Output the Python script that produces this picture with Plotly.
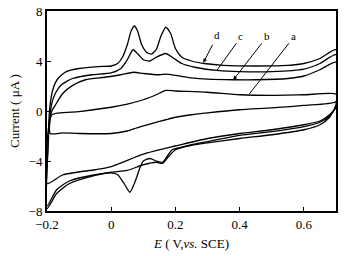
import plotly.graph_objects as go

# Curve a
a_E = [-0.19, -0.185, -0.1, 0.0, 0.05, 0.1, 0.14, 0.17, 0.2, 0.3, 0.4, 0.5, 0.6, 0.7,
       0.7, 0.6, 0.5, 0.4, 0.3, 0.25, 0.2, 0.17, 0.12, 0.08, 0.05, 0.0, -0.1, -0.15, -0.19]
a_I = [-1.8, -0.3, -0.05, 0.3, 0.55, 0.9, 1.3, 1.65, 1.6, 1.5, 1.3, 1.25, 1.3, 1.35,
       0.75, 0.45, 0.25, 0.1, -0.15, -0.3, -0.5, -0.7, -1.05, -1.35, -1.6, -1.8, -1.8, -1.75, -1.8]

# Curve b
b_E = [-0.2, -0.196, -0.185, -0.171, -0.151, -0.12, -0.08, -0.02, 0.03, 0.07, 0.1, 0.15, 0.17, 0.2,
       0.25, 0.3, 0.38, 0.45, 0.55, 0.6, 0.65, 0.7,
       0.7, 0.68, 0.65, 0.6, 0.5, 0.4, 0.3, 0.2, 0.1, 0.0, -0.05, -0.15, -0.2]
b_I = [-5.8, -1.5, 0.0, 0.6, 1.4, 2.05, 2.5, 2.7, 2.9, 3.1, 3.0, 2.9, 2.95, 2.85,
       2.65, 2.55, 2.5, 2.5, 2.6, 2.8, 3.3, 3.9,
       0.3, -0.3, -0.8, -1.1, -1.5, -1.8, -2.2, -2.8, -3.45, -4.45, -4.7, -5.1, -5.8]

# Curve c
c_E = [-0.2, -0.195, -0.186, -0.176, -0.155, -0.12, -0.06, 0.0, 0.03, 0.05, 0.068, 0.085, 0.1, 0.12,
       0.14, 0.17, 0.19, 0.22, 0.26, 0.33, 0.4, 0.5, 0.6, 0.65, 0.7,
       0.7, 0.68, 0.65, 0.6, 0.5, 0.4, 0.3, 0.25, 0.2, 0.18, 0.16, 0.14, 0.1, 0.05, 0.0, -0.05,
       -0.13, -0.17, -0.2]
c_I = [-7.8, -2.0, 0.5, 1.3, 2.1, 2.6, 2.9, 3.05, 3.4, 4.1, 4.9, 4.5, 4.1, 4.0,
       4.3, 4.6, 4.3, 3.8, 3.5, 3.25, 3.15, 3.15, 3.35, 3.8, 4.5,
       0.4, -0.4, -0.9, -1.25, -1.65, -1.95, -2.45, -2.7, -3.1, -3.6, -4.2, -4.1, -4.3, -4.75, -4.9, -5.15,
       -5.8, -6.6, -7.8]

# Curve d
d_E = [-0.2, -0.197, -0.192, -0.182, -0.166, -0.14, -0.1, -0.04, 0.0, 0.02, 0.035, 0.05, 0.062, 0.072,
       0.082, 0.095, 0.11, 0.125, 0.14, 0.155, 0.17, 0.185, 0.2, 0.22, 0.25, 0.29, 0.35, 0.45, 0.55,
       0.6, 0.65, 0.7,
       0.7, 0.68, 0.65, 0.6, 0.5, 0.4, 0.3, 0.25, 0.19, 0.175, 0.16, 0.14, 0.12, 0.1, 0.09, 0.075,
       0.058, 0.04, 0.02, 0.0, -0.05, -0.13, -0.17, -0.2]
d_I = [-7.6, -3.0, 0.1, 1.7, 2.6, 3.15, 3.4, 3.55, 3.6, 3.8, 4.3, 5.3, 6.4, 6.8,
       6.4, 5.3, 4.7, 4.55, 4.9, 6.0, 6.7, 6.2, 5.0, 4.3, 4.0, 3.8, 3.65, 3.6, 3.65,
       3.8, 4.2, 4.9,
       0.5, -0.5, -1.1, -1.5, -1.9, -2.2, -2.55, -2.75, -3.1, -3.6, -4.1, -4.0, -3.8, -4.0, -4.5, -5.6,
       -6.5, -5.8, -5.1, -4.95, -5.1, -5.6, -6.3, -7.6]

x_ticks = [-0.2, 0, 0.2, 0.4, 0.6]
x_ticklabels = ["\u22120.2", "0", "0.2", "0.4", "0.6"]
y_ticks = [-8, -4, 0, 4, 8]
y_ticklabels = ["\u22128", "\u22124", "0", "4", "8"]

serif = "Liberation Serif, Times New Roman, serif"

fig = go.Figure()
for E, I in [(a_E, a_I), (b_E, b_I), (c_E, c_I), (d_E, d_I)]:
    fig.add_trace(go.Scatter(x=E, y=I, mode="lines",
                             line=dict(color="black", width=1.3, shape="spline", smoothing=0.6),
                             showlegend=False, hoverinfo="skip", cliponaxis=True))

# labels with arrows: (text, text x, text y, tail x, tail y, tip x, tip y, head)
labels = [("d", 0.329, 6.1, 0.318, 5.42, 0.287, 3.87, 2),
          ("c", 0.404, 6.0, 0.393, 5.54, 0.33, 3.28, 0),
          ("b", 0.485, 6.0, 0.4725, 5.54, 0.38, 2.48, 2),
          ("a", 0.568, 6.0, 0.557, 5.54, 0.43, 1.36, 0)]
for t, tx, ty, ax, ay, px, py, head in labels:
    fig.add_annotation(x=tx, y=ty, text=t, showarrow=False,
                       font=dict(family=serif, size=11, color="black"))
    fig.add_annotation(x=px, y=py, ax=ax, ay=ay, axref="x", ayref="y",
                       xref="x", yref="y", text="", showarrow=True,
                       arrowhead=head, arrowsize=0.8, arrowwidth=1, arrowcolor="black")

fig.update_layout(
    width=354, height=256,
    margin=dict(l=47, r=18, t=11, b=45),
    paper_bgcolor="white", plot_bgcolor="white",
    font=dict(family=serif, size=13, color="black"),
    xaxis=dict(range=[-0.2, 0.7], tickvals=x_ticks, ticktext=x_ticklabels,
               ticks="inside", ticklen=4, tickwidth=1, tickcolor="black",
               showline=True, linecolor="black", linewidth=2, mirror=True,
               showgrid=False, zeroline=False, automargin=False,
               title=dict(text="<i>E</i> ( V,<i>vs.</i> SCE)", standoff=8,
                          font=dict(family=serif, size=13))),
    yaxis=dict(range=[-8, 8], tickvals=y_ticks, ticktext=y_ticklabels,
               ticks="inside", ticklen=4, tickwidth=1, tickcolor="black",
               showline=True, linecolor="black", linewidth=2, mirror=True,
               showgrid=False, zeroline=False, automargin=False,
               title=dict(text="Current ( μA )", standoff=6,
                          font=dict(family=serif, size=13))),
)

fig.write_html("out.html", config={"displayModeBar": False, "staticPlot": True},
               post_script="document.body.style.margin='0';")
